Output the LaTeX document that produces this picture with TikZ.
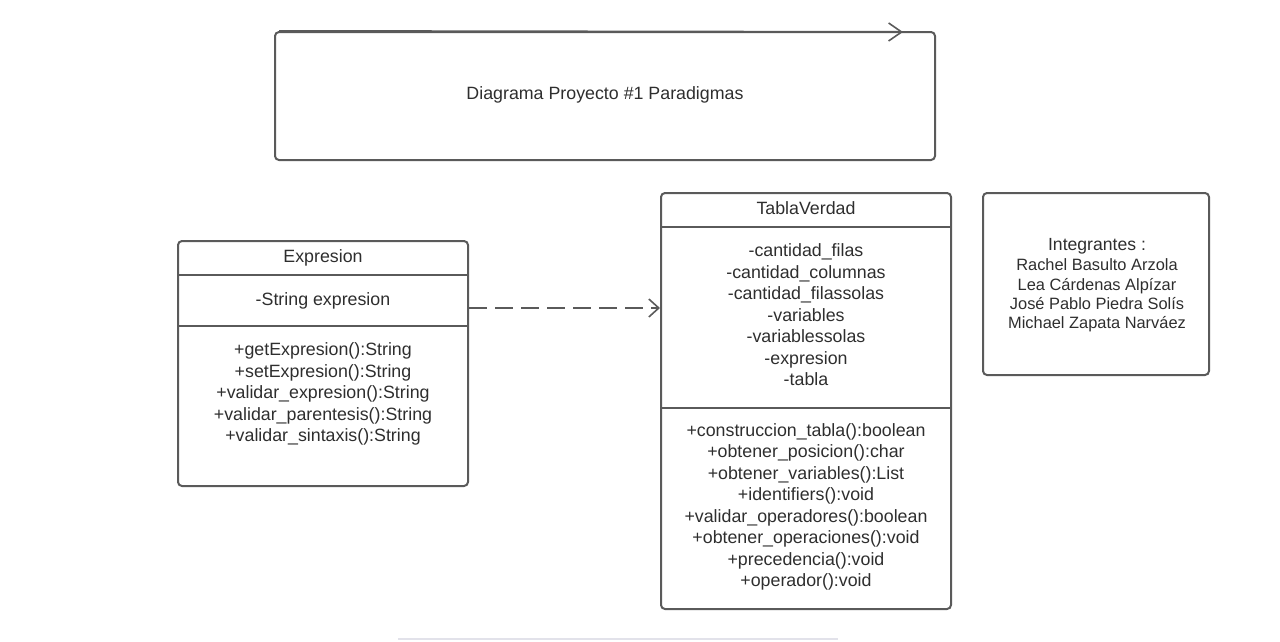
\documentclass[tikz,border=0pt]{standalone}
\usepackage{fontspec}
\setmainfont{Liberation Sans}
\usetikzlibrary{arrows.meta,calc}
\definecolor{boxline}{HTML}{5A5A5A}
\definecolor{txtcol}{HTML}{2E2E2E}
\definecolor{faint}{HTML}{E2E2EA}
\tikzset{
  umlbox/.style={draw=boxline, line width=2pt, rounded corners=4pt, inner sep=0pt},
  divider/.style={draw=boxline, line width=2pt},
  lbl/.style={text=txtcol, font=\fontsize{17.8}{21.5}\selectfont, align=center, inner sep=0pt},
  smalllbl/.style={text=txtcol, font=\fontsize{16.4}{19.3}\selectfont, align=center, inner sep=0pt},
  barb/.style={-{Straight Barb[length=10pt,width=18pt,line width=1.6pt]}},
}
\begin{document}
\begin{tikzpicture}[x=1pt,y=-1pt]
\useasboundingbox (0,0) rectangle (1280,641);
% title box
\node[umlbox, minimum width=660pt, minimum height=128pt] (title) at (605,96) {};
\node[lbl, anchor=base] (titletxt) at (605,99) {Diagrama Proyecto \#1 Paradigmas};
\coordinate (tip) at (903,32);
\draw[draw=boxline, line width=2pt, -{Straight Barb[length=13pt,width=18pt,line width=1.6pt]}] ($(title.north west)+(5,0)$) -- (tip);
% Expresion
\node[umlbox, minimum width=290pt, minimum height=245pt] (expr) at (323,363.5) {};
\draw[divider] (expr.west |- 0,275) -- (expr.east |- 0,275);
\draw[divider] (expr.west |- 0,326) -- (expr.east |- 0,326);
\node[lbl, anchor=base] (exprname) at (323,262) {Expresion};
\node[lbl, anchor=base] (exprattr) at (323,305) {-String expresion};
\node[lbl] (exprops) at (323,394) {+getExpresion():String\\+setExpresion():String\\+validar\_expresion():String\\+validar\_parentesis():String\\+validar\_sintaxis():String};
% TablaVerdad
\node[umlbox, minimum width=290pt, minimum height=416pt] (tabla) at (806,401) {};
\draw[divider] (tabla.west |- 0,227) -- (tabla.east |- 0,227);
\draw[divider] (tabla.west |- 0,408) -- (tabla.east |- 0,408);
\node[lbl, anchor=base] (tablaname) at (806,214) {TablaVerdad};
\node[lbl] (tablaattr) at (806,315) {-cantidad\_filas\\-cantidad\_columnas\\-cantidad\_filassolas\\-variables\\-variablessolas\\-expresion\\-tabla};
\node[lbl] (tablaops) at (806,507) {+construccion\_tabla():boolean\\+obtener\_posicion():char\\+obtener\_variables():List\\+identifiers():void\\+validar\_operadores():boolean\\+obtener\_operaciones():void\\+precedencia():void\\+operador():void};
% Integrantes
\node[umlbox, minimum width=226pt, minimum height=182pt] (integ) at (1096,284) {};
\node[smalllbl] (integtxt) at (1097,285) {{\fontsize{17.6}{19.3}\selectfont Integrantes :}\\[1.5pt]Rachel Basulto Arzola\\Lea Cárdenas Alpízar\\José Pablo Piedra Solís\\Michael Zapata Narváez};
% dependency
\draw[draw=boxline, line width=2pt, dash pattern=on 18pt off 8pt, barb] (expr.east |- 0,308) -- (tabla.west |- 0,308);
% faint bottom line
\coordinate (fl) at (398,639);
\coordinate (fr) at (838,639);
\draw[faint, line width=1.5pt] (fl) -- (fr);
\end{tikzpicture}
\end{document}
